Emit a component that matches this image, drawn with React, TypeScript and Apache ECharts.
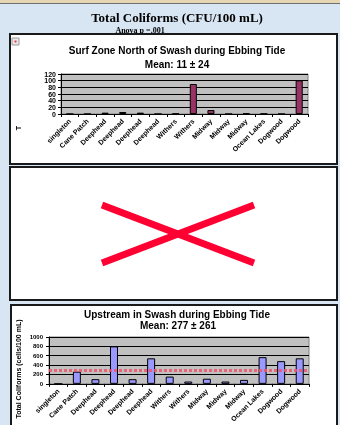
import React, { useEffect, useRef } from "react";
import * as echarts from "echarts";

const categories = [
  "singleton", "Cane Patch", "Deephead", "Deephead", "Deephead", "Deephead",
  "Withers", "Withers", "Midway", "Midway", "Midway", "Ocean Lakes", "Dogwood", "Dogwood",
];
const surfValues = [0, 0, 4, 6, 4, 0, 1, 90, 12, 0, 2, 1, 0, 101];
const upstreamValues = [0, 260, 100, 800, 100, 545, 155, 50, 110, 50, 85, 570, 485, 545];
const upstreamMeanLine = 300;

const mainTitle = "Total Coliforms (CFU/100 mL)";
const subTitle = "Anova p =.001";
const surfTitle = "Surf Zone North of Swash during Ebbing Tide";
const surfMean = "Mean: 11 ± 24";
const upTitle = "Upstream in Swash during Ebbing Tide";
const upMean = "Mean: 277 ± 261";
const yAxisTitle = "Total Coliforms (cells/100 mL)";

const SANS = "Liberation Sans, Arial, sans-serif";
const SERIF = "Liberation Serif, Times New Roman, serif";

export default function App() {
  const ref = useRef<HTMLDivElement>(null);
  useEffect(() => {
    if (!ref.current) return;
    const chart = echarts.init(ref.current, null, { renderer: "svg" });
    const axisLabelY = (size: number, margin: number, minMax: boolean) => ({
      color: "#000", fontFamily: SANS, fontWeight: "bold", fontSize: size, margin,
      showMinLabel: minMax, showMaxLabel: minMax,
      formatter: (v: number) => String(v),
    });
    const xLabel = {
      color: "#000", fontFamily: SANS, fontWeight: "bold", fontSize: 7, rotate: 45,
      interval: 0, margin: 6, hideOverlap: false,
    };
    const blackLine = { lineStyle: { color: "#000", width: 1 } };
    chart.setOption({
      animation: false,
      grid: [
        { left: 61, top: 74, width: 247, height: 40, show: true, backgroundColor: "#c0c0c0", borderColor: "#808080", borderWidth: 1 },
        { left: 49, top: 337, width: 260, height: 48.5, show: true, backgroundColor: "#c0c0c0", borderColor: "#808080", borderWidth: 1 },
      ],
      xAxis: [
        {
          type: "category", gridIndex: 0, data: categories,
          axisLine: blackLine, axisTick: { show: true, length: 3, ...blackLine },
          axisLabel: xLabel, splitLine: { show: false },
        },
        {
          type: "category", gridIndex: 1, data: categories,
          axisLine: blackLine, axisTick: { show: true, length: 3, ...blackLine },
          axisLabel: xLabel, splitLine: { show: false },
        },
      ],
      yAxis: [
        {
          type: "value", gridIndex: 0, min: 0, max: 120, interval: 20,
          axisLine: { show: true, ...blackLine }, axisTick: { show: true, length: 3, ...blackLine },
          axisLabel: axisLabelY(7, 5, false), splitLine: { show: true, ...blackLine },
        },
        {
          type: "value", gridIndex: 1, min: 0, max: 1000, interval: 200,
          axisLine: { show: true, ...blackLine }, axisTick: { show: true, length: 3, ...blackLine },
          axisLabel: axisLabelY(6, 6, true), splitLine: { show: true, ...blackLine },
        },
        {
          type: "value", gridIndex: 0, min: 0, max: 120, interval: 120, position: "left",
          axisLine: { show: false }, axisTick: { show: true, length: 3, ...blackLine },
          axisLabel: axisLabelY(7, 5, true), splitLine: { show: false },
        },
      ],
      series: [
        {
          type: "bar", xAxisIndex: 0, yAxisIndex: 0, data: surfValues, barWidth: "40%",
          itemStyle: { color: "#993366", borderColor: "#000", borderWidth: 1 },
        },
        {
          type: "bar", xAxisIndex: 1, yAxisIndex: 1, data: upstreamValues, barWidth: "43%",
          itemStyle: { color: "#9999ff", borderColor: "#000", borderWidth: 1 },
          markLine: {
            silent: true, symbol: "none", label: { show: false },
            lineStyle: { color: "#f2526a", width: 3, type: [3, 2], opacity: 0.85 },
            data: [{ yAxis: upstreamMeanLine }],
            z: 5,
          },
        },
      ],
      graphic: [
        { type: "rect", z: -100, shape: { x: 0, y: 0, width: 340, height: 425 }, style: { fill: "#d8e5f2" } },
        { type: "rect", z: -99, shape: { x: 0, y: 0, width: 340, height: 3 }, style: { fill: "#e6d6b4" } },
        { type: "line", z: -99, shape: { x1: 0, y1: 3.5, x2: 340, y2: 3.5 }, style: { stroke: "#6f6f6f", lineWidth: 1 } },
        {
          type: "text", z: -98, x: 177, y: 17,
          style: { text: mainTitle, font: `bold 13px ${SERIF}`, fill: "#000", align: "center", verticalAlign: "middle" },
        },
        {
          type: "text", z: -98, x: 140, y: 30,
          style: { text: subTitle, font: `bold 8px ${SERIF}`, fill: "#000", align: "center", verticalAlign: "middle" },
        },
        // panels
        { type: "rect", z: -90, shape: { x: 10, y: 34, width: 327, height: 130 }, style: { fill: "#fff", stroke: "#1a1a1a", lineWidth: 2 } },
        { type: "rect", z: -90, shape: { x: 10, y: 167, width: 327, height: 133 }, style: { fill: "#fff", stroke: "#1a1a1a", lineWidth: 2 } },
        { type: "rect", z: -90, shape: { x: 11, y: 305, width: 326, height: 130 }, style: { fill: "#fff", stroke: "#1a1a1a", lineWidth: 2 } },
        // small icon
        { type: "rect", z: -80, shape: { x: 12, y: 38, width: 7, height: 7 }, style: { fill: "#e8e8e8", stroke: "#9a9a9a", lineWidth: 1 } },
        { type: "rect", z: -79, shape: { x: 14.5, y: 40.5, width: 2, height: 2 }, style: { fill: "#ff3355" } },
        // red X
        { type: "line", z: 10, shape: { x1: 102, y1: 205, x2: 254, y2: 263 }, style: { stroke: "#ff0033", lineWidth: 7 } },
        { type: "line", z: 10, shape: { x1: 254, y1: 205, x2: 102, y2: 263 }, style: { stroke: "#ff0033", lineWidth: 7 } },
        // chart titles
        {
          type: "text", z: 10, x: 177, y: 50,
          style: { text: surfTitle, font: `bold 10px ${SANS}`, fill: "#000", align: "center", verticalAlign: "middle" },
        },
        {
          type: "text", z: 10, x: 177, y: 64,
          style: { text: surfMean, font: `bold 10px ${SANS}`, fill: "#000", align: "center", verticalAlign: "middle" },
        },
        {
          type: "text", z: 10, x: 177, y: 314,
          style: { text: upTitle, font: `bold 10px ${SANS}`, fill: "#000", align: "center", verticalAlign: "middle" },
        },
        {
          type: "text", z: 10, x: 178, y: 325,
          style: { text: upMean, font: `bold 10px ${SANS}`, fill: "#000", align: "center", verticalAlign: "middle" },
        },
        {
          type: "text", z: 10, x: 18, y: 128, rotation: Math.PI / 2,
          style: { text: "T", font: `bold 7px ${SANS}`, fill: "#000", align: "center", verticalAlign: "middle" },
        },
        {
          type: "text", z: 10, x: 18, y: 369, rotation: Math.PI / 2,
          style: { text: yAxisTitle, font: `bold 7px ${SANS}`, fill: "#000", align: "center", verticalAlign: "middle" },
        },
      ],
    });
    return () => chart.dispose();
  }, []);
  return <div ref={ref} style={{ position: "fixed", left: 0, top: 0, width: 340, height: 425 }} />;
}
